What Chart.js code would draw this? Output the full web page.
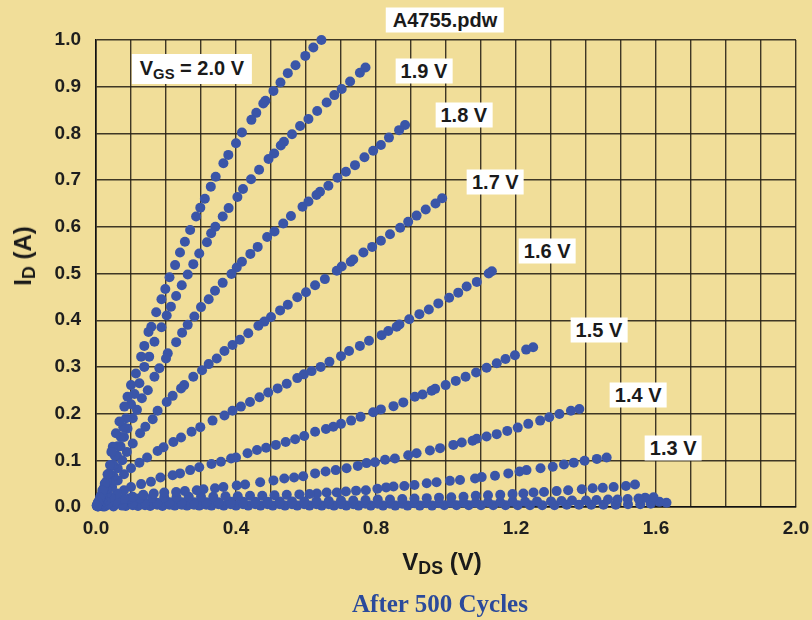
<!DOCTYPE html>
<html><head><meta charset="utf-8">
<script src="https://cdn.jsdelivr.net/npm/chart.js@4.4.0/dist/chart.umd.min.js"></script>
<style>
html,body{margin:0;padding:0;background:#F1DE99;}
#wrap{position:relative;width:812px;height:620px;background:#F1DE99;overflow:hidden;font-family:"Liberation Sans",Arial,sans-serif;}
#c{position:absolute;left:0;top:0;}
.box{position:absolute;background:#fff;color:#1a1a1a;font-weight:bold;font-size:20px;line-height:25px;padding:0 5px;white-space:nowrap;transform:translate(-50%,-50%);}
.box.big{line-height:28px;padding:0 8px;}
.sub{font-size:0.74em;position:relative;top:0.25em;}
.t{position:absolute;white-space:nowrap;font-weight:bold;color:#1a1a1a;line-height:1;}
</style></head>
<body><div id="wrap"><canvas id="c" width="812" height="620"></canvas>
<div class="box" id="fileLbl"></div>
<div class="t" id="xTitle" style="left:442px;top:550px;font-size:24px;transform:translateX(-50%);"></div>
<div class="t" id="yTitle" style="left:23px;top:256px;font-size:24px;transform:translate(-50%,-50%) rotate(-90deg);"></div>
<div class="t" id="footer" style="left:440px;top:591px;font-size:25px;font-family:'Liberation Serif','Times New Roman',serif;color:#2B4A9B;transform:translateX(-50%);"></div>
</div>
<script>
// ---------- DATA ----------
const vgsLevels = ['2.0', '1.9', '1.8', '1.7', '1.6', '1.5', '1.4', '1.3', '1.2', '1.1', '1.0'];
const labelledLevels = ['2.0', '1.9', '1.8', '1.7', '1.6', '1.5', '1.4', '1.3'];
const xTickValues = [0, 0.4, 0.8, 1.2, 1.6, 2.0];
const xTickLabels = ['0.0', '0.4', '0.8', '1.2', '1.6', '2.0'];
const yTickLabels = ['0.0', '0.1', '0.2', '0.3', '0.4', '0.5', '0.6', '0.7', '0.8', '0.9', '1.0'];
const fileName = 'A4755.pdw';
const xTitleText = ['V', 'DS', ' (V)'];
const yTitleText = ['I', 'D', ' (A)'];
const footerText = 'After 500 Cycles';

// [VDS (V), ID (A)]
const vgs20 = [[0.644,1.0],[0.621,0.984],[0.598,0.966],[0.57,0.946],[0.548,0.929],[0.527,0.909],[0.507,0.891],[0.484,0.87],[0.478,0.864],[0.458,0.844],[0.444,0.829],[0.417,0.802],[0.4,0.779],[0.378,0.754],[0.364,0.736],[0.342,0.707],[0.328,0.686],[0.311,0.66],[0.298,0.641],[0.286,0.622],[0.269,0.593],[0.254,0.568],[0.24,0.545],[0.226,0.518],[0.21,0.492],[0.198,0.467],[0.187,0.445],[0.172,0.417],[0.158,0.386],[0.15,0.375],[0.138,0.345],[0.129,0.322],[0.114,0.286],[0.1,0.261],[0.09,0.236],[0.081,0.215],[0.067,0.183],[0.057,0.158],[0.048,0.129],[0.044,0.118],[0.04,0.09],[0.033,0.07],[0.025,0.05],[0.018,0.035],[0.012,0.02],[0.006,0.01],[0.002,0.003]];
const vgs19 = [[0.77,0.941],[0.754,0.93],[0.726,0.911],[0.702,0.895],[0.681,0.882],[0.659,0.866],[0.632,0.848],[0.607,0.831],[0.583,0.816],[0.56,0.798],[0.537,0.782],[0.528,0.774],[0.509,0.757],[0.493,0.745],[0.466,0.722],[0.443,0.702],[0.42,0.681],[0.404,0.664],[0.379,0.64],[0.362,0.622],[0.341,0.6],[0.329,0.586],[0.317,0.567],[0.295,0.543],[0.278,0.52],[0.262,0.498],[0.245,0.475],[0.229,0.452],[0.214,0.429],[0.202,0.41],[0.187,0.385],[0.167,0.354],[0.152,0.322],[0.138,0.3],[0.124,0.265],[0.11,0.242],[0.1,0.22],[0.086,0.19],[0.078,0.171],[0.071,0.15],[0.062,0.13],[0.054,0.11],[0.046,0.09],[0.038,0.072],[0.03,0.055],[0.022,0.04],[0.015,0.025],[0.008,0.012],[0.003,0.004]];
const vgs18 = [[0.883,0.818],[0.866,0.807],[0.837,0.791],[0.814,0.775],[0.792,0.763],[0.767,0.749],[0.74,0.732],[0.714,0.718],[0.69,0.705],[0.664,0.688],[0.64,0.675],[0.63,0.668],[0.607,0.654],[0.59,0.643],[0.557,0.623],[0.535,0.607],[0.51,0.59],[0.489,0.578],[0.462,0.557],[0.441,0.542],[0.417,0.525],[0.402,0.513],[0.387,0.499],[0.362,0.48],[0.34,0.463],[0.322,0.445],[0.3,0.428],[0.281,0.408],[0.262,0.39],[0.246,0.373],[0.229,0.353],[0.205,0.329],[0.2,0.318],[0.181,0.297],[0.167,0.279],[0.148,0.25],[0.131,0.233],[0.117,0.208],[0.105,0.19],[0.09,0.168],[0.08,0.15],[0.07,0.13],[0.06,0.11],[0.05,0.09],[0.04,0.07],[0.03,0.052],[0.021,0.036],[0.013,0.022],[0.006,0.01],[0.002,0.003]];
const vgs17 = [[0.989,0.661],[0.97,0.65],[0.942,0.637],[0.916,0.624],[0.892,0.611],[0.869,0.598],[0.84,0.584],[0.814,0.57],[0.789,0.557],[0.764,0.545],[0.735,0.53],[0.728,0.525],[0.702,0.515],[0.688,0.506],[0.654,0.488],[0.626,0.475],[0.6,0.46],[0.575,0.449],[0.548,0.433],[0.526,0.421],[0.5,0.407],[0.481,0.397],[0.464,0.388],[0.435,0.372],[0.411,0.358],[0.39,0.347],[0.367,0.334],[0.345,0.318],[0.322,0.306],[0.303,0.293],[0.278,0.279],[0.252,0.261],[0.243,0.254],[0.219,0.238],[0.202,0.225],[0.176,0.206],[0.162,0.188],[0.141,0.172],[0.126,0.158],[0.105,0.136],[0.088,0.118],[0.075,0.1],[0.062,0.083],[0.05,0.066],[0.04,0.052],[0.03,0.038],[0.02,0.025],[0.011,0.013],[0.004,0.005]];
const vgs16 = [[1.131,0.505],[1.122,0.5],[1.088,0.482],[1.059,0.472],[1.035,0.459],[1.009,0.448],[0.978,0.436],[0.951,0.423],[0.924,0.413],[0.895,0.402],[0.867,0.391],[0.859,0.386],[0.835,0.377],[0.816,0.368],[0.78,0.356],[0.754,0.345],[0.723,0.334],[0.7,0.323],[0.667,0.311],[0.642,0.3],[0.616,0.291],[0.594,0.284],[0.575,0.276],[0.545,0.264],[0.519,0.254],[0.492,0.245],[0.467,0.235],[0.44,0.225],[0.414,0.215],[0.39,0.206],[0.367,0.196],[0.333,0.185],[0.298,0.171],[0.273,0.161],[0.243,0.149],[0.221,0.139],[0.193,0.128],[0.176,0.12],[0.146,0.106],[0.124,0.095],[0.1,0.083],[0.08,0.07],[0.062,0.057],[0.046,0.043],[0.032,0.03],[0.02,0.018],[0.01,0.009],[0.003,0.003]];
const vgs15 = [[1.249,0.342],[1.229,0.337],[1.197,0.325],[1.17,0.317],[1.145,0.308],[1.116,0.298],[1.086,0.288],[1.056,0.279],[1.028,0.27],[0.999,0.261],[0.969,0.253],[0.959,0.249],[0.933,0.241],[0.911,0.236],[0.878,0.224],[0.85,0.216],[0.814,0.209],[0.792,0.203],[0.756,0.193],[0.729,0.185],[0.7,0.178],[0.678,0.172],[0.657,0.167],[0.626,0.161],[0.595,0.152],[0.569,0.145],[0.542,0.139],[0.514,0.133],[0.486,0.127],[0.46,0.122],[0.433,0.115],[0.4,0.106],[0.386,0.104],[0.357,0.097],[0.33,0.092],[0.295,0.085],[0.269,0.079],[0.24,0.072],[0.219,0.068],[0.184,0.063],[0.157,0.054],[0.129,0.049],[0.1,0.043],[0.08,0.036],[0.06,0.029],[0.042,0.021],[0.027,0.014],[0.014,0.007],[0.005,0.002]];
const vgs14 = [[1.381,0.21],[1.357,0.206],[1.324,0.199],[1.295,0.192],[1.269,0.185],[1.235,0.178],[1.205,0.17],[1.175,0.163],[1.145,0.156],[1.116,0.151],[1.088,0.146],[1.076,0.142],[1.045,0.138],[1.021,0.133],[0.983,0.126],[0.954,0.121],[0.916,0.115],[0.892,0.111],[0.854,0.104],[0.826,0.101],[0.797,0.096],[0.773,0.094],[0.748,0.088],[0.716,0.083],[0.685,0.079],[0.656,0.076],[0.626,0.072],[0.592,0.066],[0.566,0.063],[0.538,0.061],[0.507,0.057],[0.469,0.053],[0.426,0.048],[0.402,0.046],[0.364,0.043],[0.34,0.04],[0.307,0.038],[0.288,0.036],[0.254,0.034],[0.229,0.032],[0.195,0.031],[0.165,0.029],[0.135,0.026],[0.105,0.022],[0.08,0.018],[0.056,0.013],[0.035,0.008],[0.018,0.004],[0.006,0.001]];
const vgs13 = [[1.459,0.106],[1.431,0.103],[1.396,0.099],[1.365,0.095],[1.337,0.091],[1.305,0.086],[1.27,0.083],[1.23,0.079],[1.21,0.076],[1.178,0.072],[1.14,0.067],[1.102,0.064],[1.083,0.061],[1.04,0.058],[1.011,0.056],[0.973,0.053],[0.945,0.051],[0.91,0.047],[0.881,0.045],[0.85,0.044],[0.829,0.042],[0.804,0.039],[0.771,0.036],[0.743,0.035],[0.714,0.033],[0.688,0.031],[0.659,0.031],[0.631,0.029],[0.61,0.028],[0.581,0.027],[0.545,0.026],[0.51,0.025],[0.475,0.024],[0.44,0.024],[0.405,0.023],[0.37,0.023],[0.335,0.022],[0.3,0.022],[0.265,0.022],[0.23,0.021],[0.195,0.021],[0.16,0.02],[0.125,0.019],[0.095,0.018],[0.07,0.015],[0.05,0.012],[0.032,0.008],[0.016,0.004],[0.005,0.001]];
const vgs12 = [[1.54,0.048],[1.514,0.045],[1.479,0.043],[1.448,0.041],[1.419,0.04],[1.388,0.038],[1.349,0.036],[1.316,0.034],[1.28,0.032],[1.25,0.031],[1.221,0.029],[1.19,0.028],[1.155,0.026],[1.12,0.025],[1.085,0.024],[1.05,0.022],[1.015,0.021],[0.98,0.02],[0.945,0.019],[0.91,0.018],[0.875,0.017],[0.84,0.016],[0.805,0.016],[0.77,0.015],[0.735,0.014],[0.7,0.014],[0.665,0.013],[0.63,0.013],[0.595,0.012],[0.56,0.012],[0.525,0.012],[0.49,0.011],[0.455,0.011],[0.42,0.011],[0.385,0.011],[0.35,0.01],[0.315,0.01],[0.28,0.01],[0.245,0.01],[0.21,0.01],[0.175,0.009],[0.14,0.009],[0.105,0.008],[0.075,0.007],[0.05,0.006],[0.03,0.004],[0.012,0.002]];
const vgs11 = [[1.593,0.021],[1.569,0.02],[1.55,0.018],[1.519,0.017],[1.49,0.016],[1.463,0.016],[1.43,0.015],[1.4,0.014],[1.36,0.014],[1.33,0.013],[1.3,0.012],[1.26,0.012],[1.226,0.011],[1.19,0.011],[1.155,0.01],[1.12,0.01],[1.085,0.009],[1.05,0.009],[1.015,0.009],[0.98,0.008],[0.945,0.008],[0.91,0.008],[0.875,0.007],[0.84,0.007],[0.805,0.007],[0.77,0.007],[0.735,0.006],[0.7,0.006],[0.665,0.006],[0.63,0.006],[0.595,0.006],[0.56,0.006],[0.525,0.006],[0.49,0.006],[0.455,0.006],[0.42,0.006],[0.385,0.006],[0.35,0.006],[0.315,0.005],[0.28,0.005],[0.245,0.005],[0.21,0.005],[0.175,0.005],[0.14,0.004],[0.105,0.004],[0.075,0.003],[0.05,0.002],[0.025,0.001]];
const vgs10 = [[1.63,0.009],[1.61,0.011],[1.585,0.007],[1.555,0.006],[1.52,0.006],[1.485,0.005],[1.45,0.005],[1.415,0.005],[1.38,0.005],[1.345,0.005],[1.31,0.004],[1.275,0.004],[1.24,0.004],[1.205,0.004],[1.17,0.004],[1.135,0.004],[1.1,0.004],[1.065,0.004],[1.03,0.004],[0.995,0.004],[0.96,0.003],[0.925,0.003],[0.89,0.003],[0.855,0.003],[0.82,0.003],[0.785,0.003],[0.75,0.003],[0.715,0.003],[0.68,0.003],[0.645,0.003],[0.61,0.003],[0.575,0.003],[0.54,0.003],[0.505,0.003],[0.47,0.003],[0.435,0.003],[0.4,0.003],[0.365,0.003],[0.33,0.003],[0.295,0.003],[0.26,0.003],[0.225,0.003],[0.19,0.002],[0.155,0.002],[0.12,0.002],[0.085,0.002],[0.05,0.001],[0.02,0.001]];
const curves = [vgs20, vgs19, vgs18, vgs17, vgs16, vgs15, vgs14, vgs13, vgs12, vgs11, vgs10];

// ---------- LAYOUT / STYLE ----------
// label box centres in data units (VDS, ID), one per labelled level
const labelAnchors = [[0.274,0.938],[0.937,0.934],[1.051,0.84],[1.141,0.695],[1.289,0.548],[1.437,0.38],[1.549,0.24],[1.649,0.127]];
const dotColor = '#3A55A8';
const gridColor = 'rgba(38,32,20,0.88)';
const tickFont = {family: '"Liberation Sans", Arial, sans-serif', size: 19, weight: 'bold'};

function sub(parts) {
  return parts[0] + '<span class="sub">' + parts[1] + '</span>' + parts[2];
}
document.getElementById('xTitle').innerHTML = sub(xTitleText);
document.getElementById('yTitle').innerHTML = sub(yTitleText);
document.getElementById('footer').textContent = footerText;
const fl = document.getElementById('fileLbl');
fl.textContent = fileName;
fl.style.left = '445px'; fl.style.top = '19.5px'; fl.style.padding = '0 7px';

const wrap = document.getElementById('wrap');
const labelEls = labelledLevels.map((lv, i) => {
  const d = document.createElement('div');
  d.className = 'box' + (i === 0 ? ' big' : '');
  d.innerHTML = i === 0 ? 'V<span class="sub">GS</span> = ' + lv + ' V' : lv + ' V';
  wrap.appendChild(d);
  return d;
});

const placeLabels = {
  id: 'placeLabels',
  afterDraw(chart) {
    const xs = chart.scales.x, ys = chart.scales.y;
    labelEls.forEach((el, i) => {
      el.style.left = xs.getPixelForValue(labelAnchors[i][0]) + 'px';
      el.style.top = ys.getPixelForValue(labelAnchors[i][1]) + 'px';
    });
  }
};

const datasets = curves.map((pts, i) => ({
  label: 'VGS = ' + vgsLevels[i] + ' V',
  data: pts.map(p => ({x: p[0], y: p[1]})),
  showLine: false,
  pointRadius: 5,
  pointHoverRadius: 5,
  pointBackgroundColor: dotColor,
  pointBorderWidth: 0,
  clip: false
}));

function near(a, b) { return Math.abs(a - b) < 1e-6; }
function noPad(s) { s.paddingLeft = 0; s.paddingRight = 0; s.paddingTop = 0; s.paddingBottom = 0; }

new Chart(document.getElementById('c'), {
  type: 'scatter',
  data: {datasets},
  plugins: [placeLabels],
  options: {
    responsive: false,
    animation: false,
    devicePixelRatio: 1,
    layout: {padding: {top: 40, right: 16, bottom: 0, left: 0}},
    plugins: {legend: {display: false}, tooltip: {enabled: false}},
    scales: {
      x: {
        type: 'linear', min: 0, max: 2.0,
        afterFit: s => { s.height = 113; noPad(s); },
        grid: {color: gridColor, lineWidth: 1.4, drawTicks: false},
        border: {color: '#111', width: 1.6},
        ticks: {
          stepSize: 0.1, autoSkip: false, maxRotation: 0, padding: 10,
          color: '#1e1e1e', font: tickFont,
          callback: v => { const k = xTickValues.findIndex(t => near(t, v)); return k >= 0 ? xTickLabels[k] : ''; }
        }
      },
      y: {
        type: 'linear', min: 0, max: 1.0,
        afterFit: s => { s.width = 96; noPad(s); },
        grid: {color: gridColor, lineWidth: 1.4, drawTicks: false},
        border: {color: '#111', width: 1.6},
        ticks: {
          stepSize: 0.1, autoSkip: false, padding: 15,
          color: '#1e1e1e', font: tickFont,
          callback: v => { const k = Math.round(v * 10); return near(k / 10, v) ? yTickLabels[k] : ''; }
        }
      }
    }
  }
});
</script></body></html>
